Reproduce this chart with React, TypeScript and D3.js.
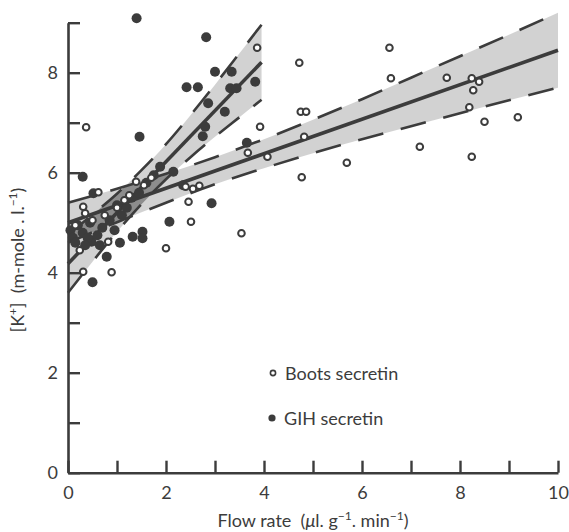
import React, { useEffect, useRef } from "react";
import * as d3 from "d3";

// Boots secretin (open circles): [flow rate, K+]
const bootsPoints: [number, number][] = [
  [0.37, 6.91], [3.86, 8.5], [4.72, 8.2], [4.75, 7.22], [4.86, 7.22],
  [3.92, 6.92], [4.82, 6.72], [3.67, 6.4], [4.07, 6.32], [5.69, 6.2],
  [4.77, 5.91], [6.56, 8.5], [6.59, 7.89], [7.73, 7.9], [8.24, 7.89],
  [8.39, 7.82], [8.27, 7.65], [8.19, 7.31], [8.5, 7.02], [9.18, 7.11],
  [7.18, 6.52], [8.24, 6.32], [3.54, 4.79], [2.46, 5.42], [2.51, 5.02],
  [2.0, 4.49], [0.62, 5.61], [0.31, 5.32], [0.35, 5.19], [0.82, 4.62],
  [0.24, 4.45], [0.31, 4.02], [0.89, 4.01], [1.39, 5.82], [2.4, 5.72],
  [2.55, 5.68], [2.68, 5.74], [0.15, 4.95], [0.5, 5.05], [0.75, 5.15],
  [1.0, 5.3], [1.15, 5.45], [1.25, 5.55], [1.55, 5.75], [1.7, 5.9],
];

// GIH secretin (filled circles)
const gihPoints: [number, number][] = [
  [1.4, 9.09], [2.42, 7.71], [2.65, 7.71], [1.46, 6.72], [0.3, 5.92],
  [0.52, 5.59], [2.82, 8.71], [3.0, 8.02], [3.34, 8.02], [3.31, 7.69],
  [3.44, 7.69], [3.82, 7.82], [2.86, 7.39], [3.2, 7.22], [2.8, 6.92],
  [2.75, 6.73], [3.65, 6.6], [2.07, 5.02], [2.93, 5.39], [1.32, 4.72],
  [1.52, 4.82], [1.52, 4.69], [2.35, 5.75], [0.48, 4.62], [1.06, 4.6],
  [0.79, 4.32], [0.5, 3.81], [1.88, 6.12], [2.15, 6.02],
  [0.05, 4.85], [0.1, 4.7], [0.2, 4.95], [0.3, 4.8], [0.4, 4.7],
  [0.45, 5.0], [0.6, 4.75], [0.7, 4.9], [0.85, 5.05], [0.95, 4.85],
  [1.1, 5.15], [1.2, 5.3], [1.3, 5.5], [1.45, 5.6], [1.6, 5.8],
  [1.75, 5.95], [0.35, 4.55], [0.65, 4.55], [0.15, 4.6], [1.0, 5.35],
];

// regression lines
const bootsFit: [number, number][] = [[0, 5.0], [10, 8.45]];
const gihFit: [number, number][] = [[0, 4.18], [3.95, 8.21]];

// confidence limits: [x, lower, upper]
const bootsBand: [number, number, number][] = [
  [0, 4.6, 5.4], [1, 5.01, 5.68], [2, 5.4, 5.98], [3, 5.77, 6.31],
  [4, 6.09, 6.67], [5, 6.39, 7.06], [6, 6.67, 7.47], [7, 6.93, 7.9],
  [8, 7.19, 8.33], [9, 7.45, 8.76], [10, 7.7, 9.2],
];
const gihBand: [number, number, number][] = [
  [0, 3.6, 4.76], [0.5, 4.22, 5.16], [1, 4.82, 5.58], [1.5, 5.37, 6.05],
  [2, 5.87, 6.57], [2.5, 6.31, 7.15], [3, 6.72, 7.76], [3.5, 7.11, 8.39],
  [3.95, 7.46, 8.96],
];

const xTicks = [0, 1, 2, 3, 4, 5, 6, 7, 8, 9, 10];
const yTicks = [0, 1, 2, 3, 4, 5, 6, 7, 8, 9];

const ink = "#3c3c3c";
const font = "Lato, 'Open Sans', sans-serif";

const App = () => {
  const ref = useRef<SVGSVGElement>(null);

  useEffect(() => {
    const svg = d3.select(ref.current);
    svg.selectAll("*").remove();

    const x = d3.scaleLinear().domain([0, 10]).range([68, 558]);
    const y = d3.scaleLinear().domain([0, 9]).range([472.7, 22.7]);

    const area = d3
      .area<[number, number, number]>()
      .x((d) => x(d[0]))
      .y0((d) => y(d[1]))
      .y1((d) => y(d[2]))
      .curve(d3.curveMonotoneX);

    const edge = (i: number) =>
      d3
        .line<[number, number, number]>()
        .x((d) => x(d[0]))
        .y((d) => y(d[i]))
        .curve(d3.curveMonotoneX);

    // overlap of the two bands is printed darker
    svg
      .append("defs")
      .append("clipPath")
      .attr("id", "boots-clip")
      .append("path")
      .attr("d", area(bootsBand));

    [bootsBand, gihBand].forEach((band) => {
      svg
        .append("path")
        .attr("d", area(band))
        .attr("fill", "#777")
        .attr("fill-opacity", 0.33);
    });
    svg
      .append("path")
      .attr("d", area(gihBand))
      .attr("clip-path", "url(#boots-clip)")
      .attr("fill", "#444")
      .attr("fill-opacity", 0.35);

    [bootsBand, gihBand].forEach((band) => {
      [1, 2].forEach((i) => {
        svg
          .append("path")
          .attr("d", edge(i)(band))
          .attr("fill", "none")
          .attr("stroke", ink)
          .attr("stroke-width", 2.6)
          .attr("stroke-dasharray", "26 18");
      });
    });

    const fit = d3
      .line<[number, number]>()
      .x((d) => x(d[0]))
      .y((d) => y(d[1]));

    [bootsFit, gihFit].forEach((l) => {
      svg
        .append("path")
        .attr("d", fit(l))
        .attr("fill", "none")
        .attr("stroke", ink)
        .attr("stroke-width", 3.6);
    });

    // axes
    const xAxis = svg
      .append("g")
      .attr("transform", `translate(0,${y(0)})`)
      .call(
        d3
          .axisBottom(x)
          .tickValues(xTicks)
          .tickSizeInner(-12)
          .tickSizeOuter(0)
          .tickPadding(14)
          .tickFormat((d) => ((d as number) % 2 === 0 ? String(d) : ""))
      );

    const yAxis = svg
      .append("g")
      .attr("transform", `translate(${x(0)},0)`)
      .call(
        d3
          .axisLeft(y)
          .tickValues(yTicks)
          .tickSizeInner(-12)
          .tickSizeOuter(0)
          .tickPadding(10)
          .tickFormat((d) => ((d as number) % 2 === 0 ? String(d) : ""))
      );

    [xAxis, yAxis].forEach((g) => {
      g.select(".domain").attr("stroke", ink).attr("stroke-width", 2.6);
      g.selectAll(".tick line").attr("stroke", ink).attr("stroke-width", 2.4);
      g.selectAll("text")
        .attr("fill", ink)
        .style("font-family", font)
        .style("font-size", "18px");
    });

    // points
    svg
      .append("g")
      .selectAll("circle")
      .data(gihPoints)
      .enter()
      .append("circle")
      .attr("cx", (d) => x(d[0]))
      .attr("cy", (d) => y(d[1]))
      .attr("r", 5)
      .attr("fill", ink);

    svg
      .append("g")
      .selectAll("circle")
      .data(bootsPoints)
      .enter()
      .append("circle")
      .attr("cx", (d) => x(d[0]))
      .attr("cy", (d) => y(d[1]))
      .attr("r", 3.3)
      .attr("fill", "white")
      .attr("stroke", ink)
      .attr("stroke-width", 2);

    // legend
    svg
      .append("circle")
      .attr("cx", 273)
      .attr("cy", 373)
      .attr("r", 2.6)
      .attr("fill", "white")
      .attr("stroke", ink)
      .attr("stroke-width", 1.6);
    svg
      .append("text")
      .attr("x", 285)
      .attr("y", 380)
      .attr("fill", ink)
      .style("font-family", font)
      .style("font-size", "18px")
      .text("Boots secretin");

    svg
      .append("circle")
      .attr("cx", 272)
      .attr("cy", 418)
      .attr("r", 3.6)
      .attr("fill", ink);
    svg
      .append("text")
      .attr("x", 284)
      .attr("y", 425)
      .attr("fill", ink)
      .style("font-family", font)
      .style("font-size", "18px")
      .text("GIH secretin");

    // axis titles
    const xt = svg
      .append("text")
      .attr("x", 313)
      .attr("y", 527)
      .attr("text-anchor", "middle")
      .attr("fill", ink)
      .style("font-family", font)
      .style("font-size", "18px");
    xt.append("tspan").text("Flow rate\u00a0\u00a0(");
    xt.append("tspan").attr("font-style", "italic").text("\u03bc");
    xt.append("tspan").text("l. g");
    xt.append("tspan").attr("font-size", "12px").attr("dy", -7).text("\u2212\u0031");
    xt.append("tspan").attr("dy", 7).text(". min");
    xt.append("tspan").attr("font-size", "12px").attr("dy", -7).text("\u2212\u0031");
    xt.append("tspan").attr("dy", 7).text(")");

    const yt = svg
      .append("text")
      .attr("transform", "translate(24,260) rotate(-90)")
      .attr("text-anchor", "middle")
      .attr("fill", ink)
      .style("font-family", font)
      .style("font-size", "18px");
    yt.append("tspan").text("[K");
    yt.append("tspan").attr("font-size", "12px").attr("dy", -7).text("+");
    yt.append("tspan").attr("dy", 7).text("]\u00a0\u00a0(m-mole . l.");
    yt.append("tspan").attr("font-size", "12px").attr("dy", -7).text("\u2212\u0031");
    yt.append("tspan").attr("dy", 7).text(")");
  }, []);

  return (
    <svg
      ref={ref}
      width={569}
      height={532}
      style={{ position: "absolute", left: 0, top: 0, background: "white" }}
    />
  );
};

export default App;
